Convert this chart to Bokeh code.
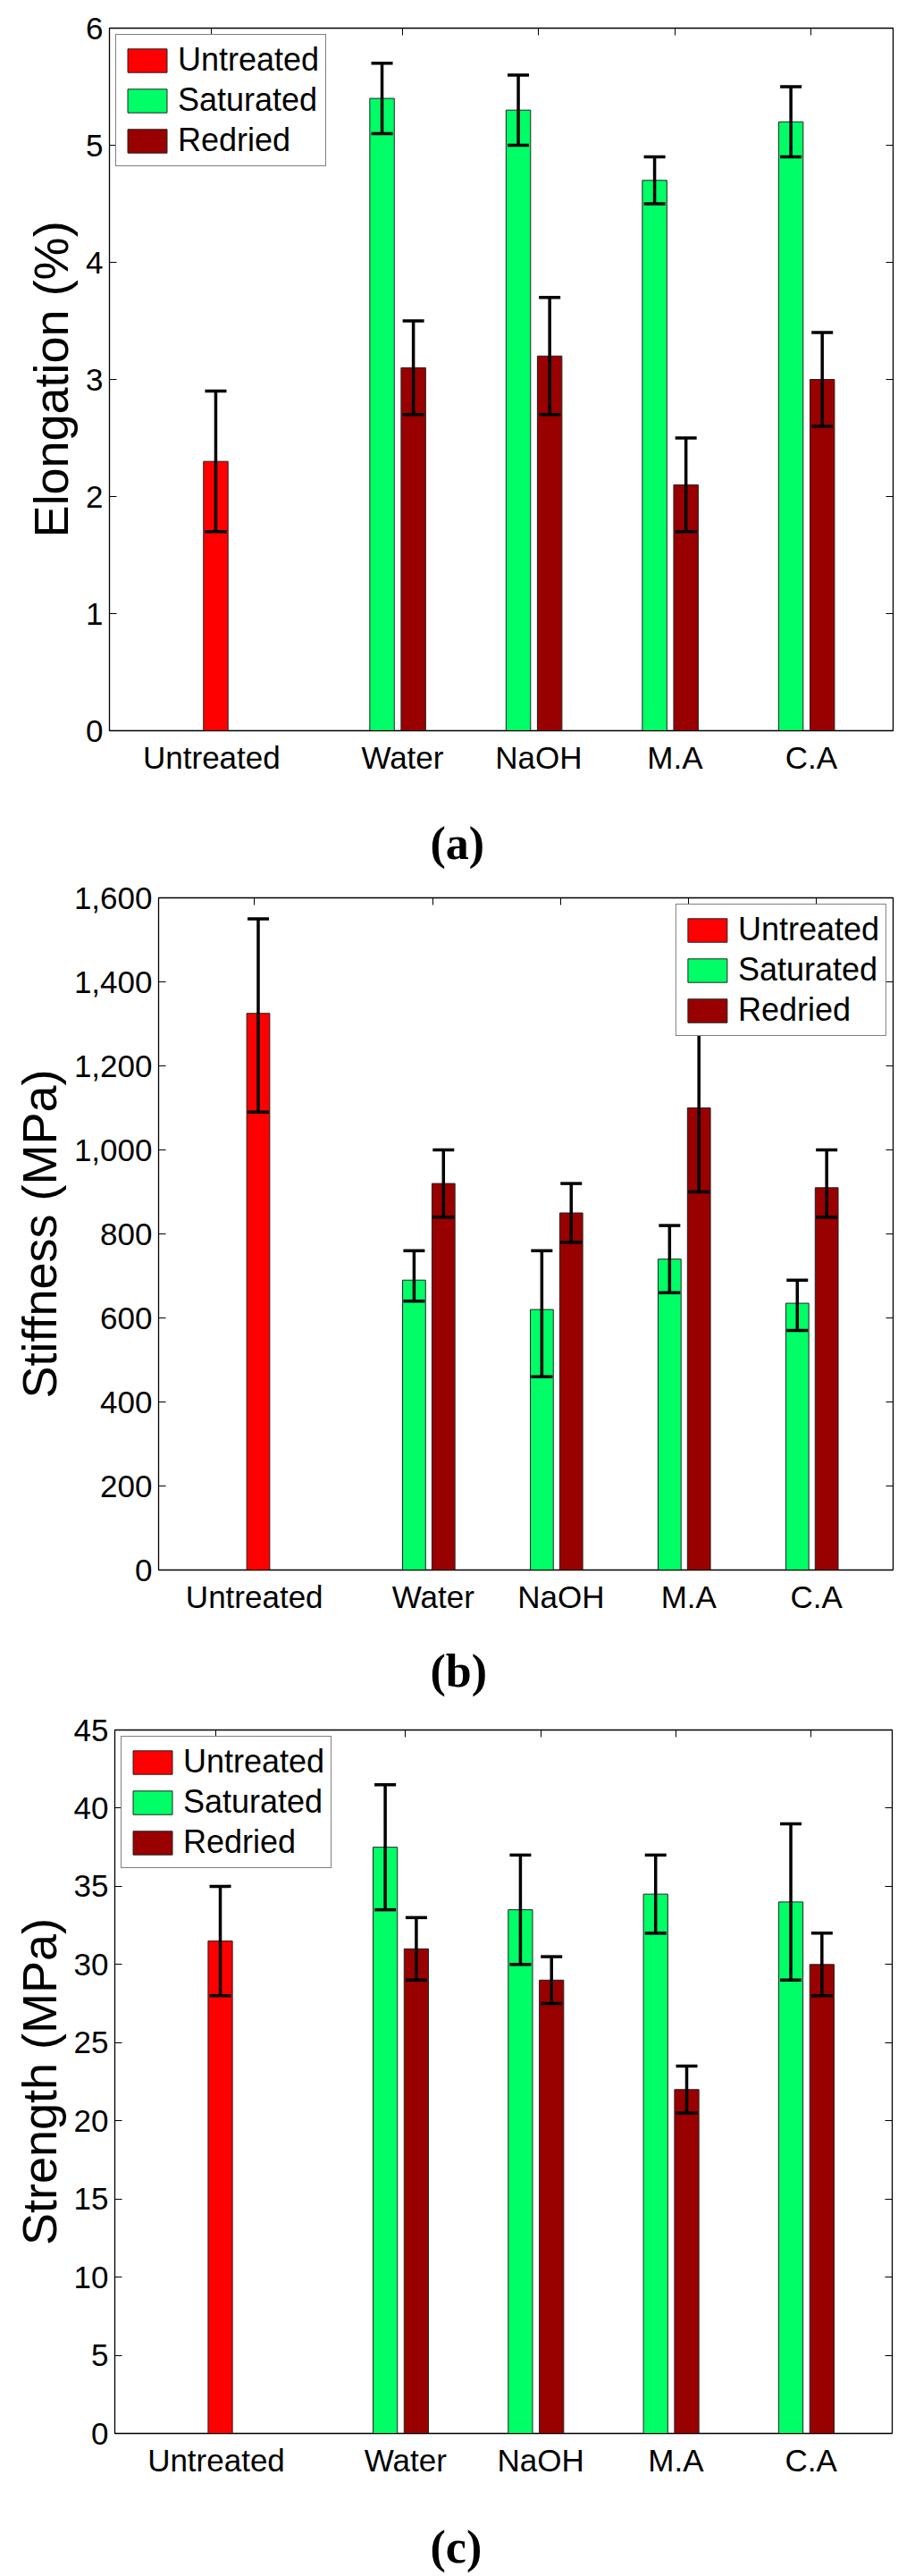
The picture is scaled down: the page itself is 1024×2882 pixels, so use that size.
from bokeh.plotting import figure
from bokeh.models import (ColumnDataSource, Whisker, TeeHead, Legend, LegendItem,
                          LinearAxis, FixedTicker, Range1d, NumeralTickFormatter,
                          Title, CustomJSTickFormatter)
from bokeh.embed import file_html
from bokeh.resources import INLINE

# ---------------- data ----------------
categories = ["Untreated", "Water", "NaOH", "M.A", "C.A"]
treatments = ["Water", "NaOH", "M.A", "C.A"]
series_names = ["Untreated", "Saturated", "Redried"]

# (a) Elongation (%)
elong_untreated = [2.3]
elong_untreated_lo = [1.7]
elong_untreated_hi = [2.9]
elong_saturated = [5.4, 5.3, 4.7, 5.2]
elong_saturated_lo = [5.1, 5.0, 4.5, 4.9]
elong_saturated_hi = [5.7, 5.6, 4.9, 5.5]
elong_redried = [3.1, 3.2, 2.1, 3.0]
elong_redried_lo = [2.7, 2.7, 1.7, 2.6]
elong_redried_hi = [3.5, 3.7, 2.5, 3.4]
elong_ticks = [0, 1, 2, 3, 4, 5, 6]

# (b) Stiffness (MPa)
stiff_untreated = [1325]
stiff_untreated_lo = [1090]
stiff_untreated_hi = [1550]
stiff_saturated = [690, 620, 740, 635]
stiff_saturated_lo = [640, 460, 660, 570]
stiff_saturated_hi = [760, 760, 820, 690]
stiff_redried = [920, 850, 1100, 910]
stiff_redried_lo = [840, 780, 900, 840]
stiff_redried_hi = [1000, 920, 1300, 1000]
stiff_ticks = [0, 200, 400, 600, 800, 1000, 1200, 1400, 1600]

# (c) Strength (MPa)
stren_untreated = [31.5]
stren_untreated_lo = [28.0]
stren_untreated_hi = [35.0]
stren_saturated = [37.5, 33.5, 34.5, 34.0]
stren_saturated_lo = [33.5, 30.0, 32.0, 29.0]
stren_saturated_hi = [41.5, 37.0, 37.0, 39.0]
stren_redried = [31.0, 29.0, 22.0, 30.0]
stren_redried_lo = [29.0, 27.5, 20.5, 28.0]
stren_redried_hi = [33.0, 30.5, 23.5, 32.0]
stren_ticks = [0, 5, 10, 15, 20, 25, 30, 35, 40, 45]

# ---------------- style ----------------
RED = "#FF0000"
GREEN = "#00FF66"
DARK = "#990000"
SANS = "Liberation Sans"
SERIF = "Liberation Serif"
PAGE_W = 1024

cat_pos = [1.0] + [round(2.4 + i, 2) for i in range(len(treatments))]
treat_pos = cat_pos[1:]
BAR_W = 0.18
OFF_UNT, OFF_SAT, OFF_RED = 0.03, -0.15, 0.08


def empty_fmt():
    return CustomJSTickFormatter(code="return ''")


def make_panel(unt, unt_lo, unt_hi, sat, sat_lo, sat_hi, red, red_lo, red_hi,
               ticks, ylabel, caption, border_left, border_top, frame_w, frame_h,
               border_bottom, legend_loc, ylabel_standoff, caption_gap, caption_offset,
               comma=False):
    p = figure(frame_width=frame_w, frame_height=frame_h,
               min_border_left=border_left, min_border_right=PAGE_W - border_left - frame_w,
               min_border_top=border_top, min_border_bottom=border_bottom,
               x_range=Range1d(0.25, 6.0), y_range=Range1d(ticks[0], ticks[-1]),
               output_backend="svg", toolbar_location=None,
               background_fill_color="white", border_fill_color="white")
    p.grid.visible = False
    p.outline_line_color = "black"
    p.outline_line_width = 1.3

    src_u = ColumnDataSource(dict(x=[cat_pos[0] + OFF_UNT], top=unt, lo=unt_lo, hi=unt_hi))
    src_s = ColumnDataSource(dict(x=[t + OFF_SAT for t in treat_pos], top=sat, lo=sat_lo, hi=sat_hi))
    src_r = ColumnDataSource(dict(x=[t + OFF_RED for t in treat_pos], top=red, lo=red_lo, hi=red_hi))

    renderers = []
    for src, col in ((src_u, RED), (src_s, GREEN), (src_r, DARK)):
        r = p.vbar(x="x", top="top", width=BAR_W, bottom=0, source=src,
                   fill_color=col, line_color="#222222", line_width=1)
        renderers.append(r)
    for src in (src_u, src_s, src_r):
        w = Whisker(base="x", lower="lo", upper="hi", source=src, dimension="height",
                    level="glyph", line_color="black", line_width=3.5,
                    upper_head=TeeHead(size=24, line_width=3.5, line_color="black"),
                    lower_head=TeeHead(size=24, line_width=3.5, line_color="black"))
        p.add_layout(w)

    # axes
    xax = p.xaxis[0]
    xax.ticker = FixedTicker(ticks=cat_pos)
    xax.major_label_overrides = {pos: name for pos, name in zip(cat_pos, categories)}
    xax.major_tick_in = 0
    xax.major_tick_out = 0
    xax.minor_tick_line_color = None
    xax.major_label_standoff = 10
    xax.major_label_text_font = SANS
    xax.major_label_text_font_size = "35px"
    xax.major_label_text_color = "black"
    xax.axis_line_color = "black"

    yax = p.yaxis[0]
    yax.ticker = FixedTicker(ticks=ticks)
    if comma:
        yax.formatter = NumeralTickFormatter(format="0,0")
    yax.major_tick_in = 8
    yax.major_tick_out = 0
    yax.minor_tick_line_color = None
    yax.major_label_standoff = 7
    yax.major_label_text_font = SANS
    yax.major_label_text_font_size = "35px"
    yax.major_label_text_color = "black"
    yax.axis_label = ylabel
    yax.axis_label_text_font = SANS
    yax.axis_label_text_font_style = "normal"
    yax.axis_label_text_font_size = "54px"
    yax.axis_label_text_color = "black"
    yax.axis_label_standoff = ylabel_standoff

    right = LinearAxis(ticker=FixedTicker(ticks=ticks), formatter=empty_fmt(),
                       major_tick_in=8, major_tick_out=0, minor_tick_line_color=None,
                       major_label_standoff=0, major_label_text_font_size="1px")
    p.add_layout(right, "right")
    top = LinearAxis(ticker=FixedTicker(ticks=cat_pos), formatter=empty_fmt(),
                     major_tick_in=8, major_tick_out=0, minor_tick_line_color=None,
                     major_label_standoff=0, major_label_text_font_size="1px")
    p.add_layout(top, "above")

    legend = Legend(items=[LegendItem(label=n, renderers=[r]) for n, r in zip(series_names, renderers)],
                    location=legend_loc, margin=7, padding=7, spacing=3,
                    glyph_width=55, glyph_height=33, label_standoff=7,
                    label_text_font=SANS, label_text_font_size="36px",
                    label_text_color="black", border_line_color="black",
                    border_line_width=1.2, background_fill_color="white",
                    background_fill_alpha=1.0)
    p.add_layout(legend)

    # spacer between the x axis and the caption, then the caption itself
    spacer = Title(text=" ", text_font_size="1px", standoff=caption_gap)
    p.add_layout(spacer, "below")
    cap = Title(text=caption, align="left", offset=caption_offset, vertical_align="top",
                text_font=SERIF, text_font_style="bold", text_font_size="52px",
                text_color="black", standoff=0)
    p.add_layout(cap, "below")
    return p


pa = make_panel(elong_untreated, elong_untreated_lo, elong_untreated_hi,
                elong_saturated, elong_saturated_lo, elong_saturated_hi,
                elong_redried, elong_redried_lo, elong_redried_hi,
                elong_ticks, "Elongation (%)", "(a)",
                border_left=122, border_top=31, frame_w=877, frame_h=786,
                border_bottom=163, legend_loc="top_left", ylabel_standoff=6,
                caption_gap=42, caption_offset=359)

pb = make_panel(stiff_untreated, stiff_untreated_lo, stiff_untreated_hi,
                stiff_saturated, stiff_saturated_lo, stiff_saturated_hi,
                stiff_redried, stiff_redried_lo, stiff_redried_hi,
                stiff_ticks, "Stiffness (MPa)", "(b)",
                border_left=177, border_top=24, frame_w=822, frame_h=752,
                border_bottom=149, legend_loc="top_right", ylabel_standoff=6,
                caption_gap=29, caption_offset=304, comma=True)

pc = make_panel(stren_untreated, stren_untreated_lo, stren_untreated_hi,
                stren_saturated, stren_saturated_lo, stren_saturated_hi,
                stren_redried, stren_redried_lo, stren_redried_hi,
                stren_ticks, "Strength (MPa)", "(c)",
                border_left=128, border_top=30, frame_w=870, frame_h=787,
                border_bottom=160, legend_loc="top_left", ylabel_standoff=6,
                caption_gap=43, caption_offset=353)

open("out.html", "w").write(file_html([pa, pb, pc], INLINE))
